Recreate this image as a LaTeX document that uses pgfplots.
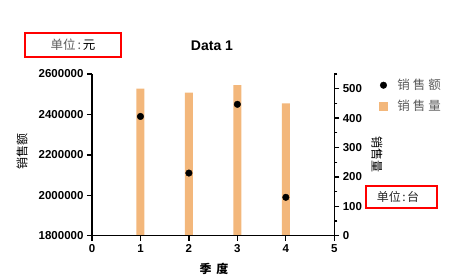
\documentclass[border=0pt]{standalone}
\usepackage{pgfplots}
\pgfplotsset{compat=1.18}
\usepackage{fontspec}
\setmainfont{Liberation Sans}
\newfontfamily\cjk{Noto Sans CJK SC}
\definecolor{barc}{HTML}{F3B77B}
\definecolor{txtgray}{HTML}{5A5A5A}
\pgfplotsset{
  common/.style={
    at={(92pt,43.3pt)}, anchor=south west,
    scale only axis, width=242.3pt, height=161.7pt,
    xmin=0, xmax=5,
    tick align=outside,
    major tick length=5pt, minor tick length=3pt,
    axis line style={line width=1.3pt},
    every tick/.style={black, line width=1.3pt},
    tick label style={font=\bfseries\fontsize{11.5}{12}\selectfont},
    /pgf/number format/assume math mode=true,
    clip=false,
  }
}
\newcommand{\ls}{\hspace{3pt}}
\begin{document}
\begin{tikzpicture}[x=1pt,y=1pt]
\useasboundingbox (0,0) rectangle (464,279);
% right axis: bars
\begin{axis}[common,
  ymin=0, ymax=550,
  axis y line*=right, axis x line=none,
  ytick={0,100,...,500}, minor ytick={50,150,...,550},
]
\addplot[ybar, bar width=8pt, fill=barc, draw=none] coordinates {(1,500) (2,487) (3,512) (4,450)};
\end{axis}
% left axis: dots
\begin{axis}[common,
  ymin=1800000, ymax=2600000,
  axis x line*=bottom, axis y line*=left,
  xtick={0,1,2,3,4,5},
  ytick={1800000,2000000,2200000,2400000,2600000},
  scaled y ticks=false,
  yticklabel style={/pgf/number format/fixed, /pgf/number format/1000 sep={}},
  legend style={at={(rel axis cs:1,1)}, anchor=north west, xshift=38pt, yshift=-1pt,
    draw=none, fill=none, font=\cjk\fontsize{12.5}{13}\selectfont\color{txtgray},
    row sep=5pt, legend cell align=left},
  legend image code/.code={\draw[#1] plot coordinates {(8pt,0pt)}; \path[draw=none,fill=none] (0pt,0pt) -- (20pt,0pt);},
]
\addplot[only marks, mark=*, mark size=3.3pt, black] coordinates {(1,2390000) (2,2110000) (3,2450000) (4,1990000)};
\addlegendentry{销\ls 售\ls 额}
\addlegendimage{legend image code/.code={\fill[barc] (4pt,-4pt) rectangle (12pt,4pt); \path[draw=none,fill=none] (0pt,0pt) -- (20pt,0pt);}}
\addlegendentry{销\ls 售\ls 量}
\end{axis}
% titles and labels
\node[font=\bfseries\fontsize{14}{14}\selectfont] at (212,233) {Data 1};
\node[font=\cjk\bfseries\fontsize{12}{12}\selectfont] at (214,10) {季\hspace{5pt}度};
\node[font=\cjk\fontsize{12}{12}\selectfont, rotate=90] at (22,127) {销售额};
\node[font=\cjk\fontsize{12}{12}\selectfont, rotate=-90] at (377,124) {销售量};
% unit boxes
\draw[red, line width=1.6pt] (25,246) rectangle (121,222);
\node[font=\cjk\fontsize{12.5}{13}\selectfont, text=txtgray] at (73,234) {单位\hspace{2pt}:\hspace{2pt}\textcolor{black}{元}};
\draw[red, line width=1.6pt] (366,93) rectangle (437,71);
\node[font=\cjk\fontsize{12}{12}\selectfont, text=black!85] at (398,82) {单位\hspace{1.5pt}:\hspace{1.5pt}台};
\end{tikzpicture}
\end{document}
